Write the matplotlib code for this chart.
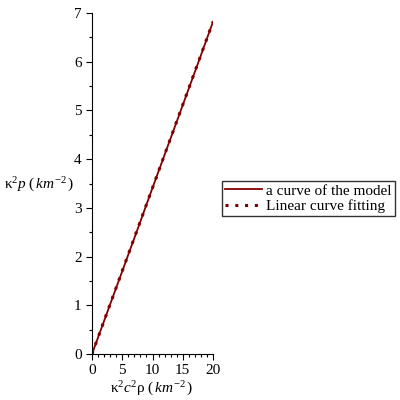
import matplotlib
matplotlib.use("Agg")
import matplotlib.pyplot as plt
import numpy as np
from matplotlib.ticker import MultipleLocator

plt.rcParams['font.family'] = ['Liberation Serif', 'DejaVu Serif']
plt.rcParams['mathtext.fontset'] = 'custom'
plt.rcParams['mathtext.rm'] = 'Liberation Serif'
plt.rcParams['mathtext.it'] = 'Liberation Serif:italic'

# data
model_x = [0, 2.5, 5, 7.5, 10, 12.5, 15, 17.5, 20]
model_y = [0, 0.85, 1.70, 2.55, 3.41, 4.26, 5.11, 5.96, 6.82]
fit_x = [0, 20]
fit_y = [0, 6.82]

color = '#800000'
fig = plt.figure(figsize=(4, 4), dpi=100)
ax = fig.add_axes([0.23, 0.115, 0.3025, 0.8525])
ax.plot(model_x, model_y, color=color, lw=1.3, label='a curve of the model')
ax.plot(fit_x, fit_y, color=color, lw=2.2, linestyle=(0, (1, 2.2)), label='Linear curve fitting')

ax.set_xlim(0, 20)
ax.set_ylim(0, 7)
ax.xaxis.set_major_locator(MultipleLocator(5))
ax.xaxis.set_minor_locator(MultipleLocator(1))
ax.yaxis.set_major_locator(MultipleLocator(1))
ax.yaxis.set_minor_locator(MultipleLocator(0.5))
for s in ['top', 'right']:
    ax.spines[s].set_visible(False)
ax.tick_params(which='major', length=4, width=0.8, labelsize=11, direction='out')
ax.tick_params(which='minor', length=2.5, width=0.8, direction='out')

ax.set_xlabel(r'κ$^2$$\it{c}^2$ρ $(\,\it{km}^{-2}\,)$', fontsize=11)
ax.xaxis.set_label_coords(0.49, -0.075)
ax.set_ylabel(r'κ$^2$$\it{p}$ $(\,\it{km}^{-2}\,)$', fontsize=11, rotation=0)
ax.yaxis.set_label_coords(-0.44, 0.47)

leg = fig.legend(loc='upper left', bbox_to_anchor=(0.555, 0.548), fontsize=11,
                 frameon=True, fancybox=False, edgecolor='black', borderpad=0.2,
                 handlelength=2.4, labelspacing=0.1, handletextpad=0.3, borderaxespad=0)
leg.get_frame().set_linewidth(1.0)

fig.savefig('out.png', dpi=100)
